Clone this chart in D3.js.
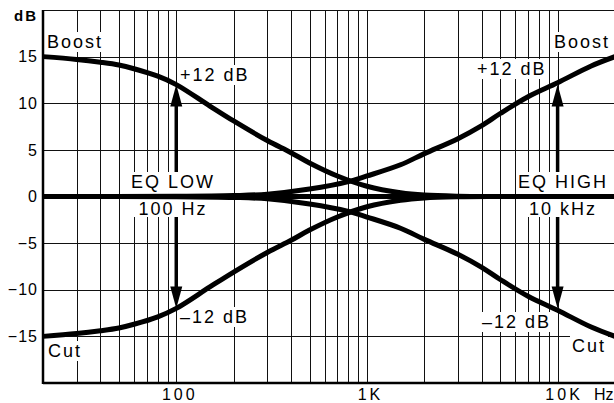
<!DOCTYPE html>
<html>
<head>
<meta charset="utf-8">
<script src="https://cdn.jsdelivr.net/npm/d3@7"></script>
<style>
  html, body { margin: 0; padding: 0; background: #fff; }
  svg { display: block; font-family: 'Liberation Sans', Arial, sans-serif; }
</style>
</head>
<body>
<div id="chart"></div>
<script>
// ---- data ----
const dbTicks = [15, 10, 5, 0, -5, -10, -15];
const gridDb = [20, 15, 10, 5, 0, -5, -10, -15];
const gridFreqs = [30, 40, 50, 60, 70, 80, 90, 100,
  200, 300, 400, 500, 600, 700, 800, 900, 1000,
  2000, 3000, 4000, 5000, 6000, 7000, 8000, 9000, 10000];
const freqLabels = [100, 1000, 10000];
const freqLabelText = ['100', '1K', '10K'];

// EQ LOW shelf
const lowFreqs = [20, 30, 40, 50, 60, 80, 100, 150, 200, 300, 400, 500, 700, 1000, 1500, 2000, 3000, 5000, 20000];
const lowBoost = [15, 14.7, 14.4, 14.1, 13.7, 12.9, 12.0, 9.7, 8.1, 6.0, 4.7, 3.6, 2.2, 1.1, 0.4, 0.15, 0.03, 0, 0];
const lowCut = [-15, -14.7, -14.4, -14.1, -13.7, -12.9, -12.0, -9.7, -8.1, -6.0, -4.7, -3.6, -2.2, -1.1, -0.4, -0.15, -0.03, 0, 0];

// EQ HIGH shelf
const highFreqs = [20, 100, 200, 300, 500, 800, 1000, 1500, 2000, 3000, 4000, 5000, 7000, 10000, 15000, 20000];
const highBoost = [0, 0.02, 0.1, 0.25, 0.8, 1.6, 2.2, 3.4, 4.6, 6.2, 7.6, 8.9, 10.7, 12.2, 14.0, 15.0];
const highCut = [0, -0.02, -0.1, -0.25, -0.8, -1.6, -2.2, -3.4, -4.6, -6.2, -7.6, -8.9, -10.7, -12.2, -14.0, -15.0];

const flatFreqs = [20, 20000];
const flatDb = [0, 0];

// arrows: frequency, dB at the tip
const arrowFreqs = [100, 100, 10000, 10000];
const arrowTips = [12, -12, 12, -12];

// ---- layout ----
const W = 614, H = 403;
const svg = d3.select('#chart').append('svg').attr('width', W).attr('height', H);

const x = d3.scaleLog().domain([20, 20000]).range([43, 615]);
const y = d3.scaleLinear().domain([-20, 20]).range([383, 10]);

/* ---------- grid ---------- */
const grid = svg.append('g').attr('stroke', '#111').attr('stroke-width', 1).attr('shape-rendering', 'crispEdges');
grid.selectAll('.vg').data(gridFreqs).enter().append('line')
  .attr('x1', d => Math.round(x(d)) + 0.5).attr('x2', d => Math.round(x(d)) + 0.5)
  .attr('y1', y(20)).attr('y2', y(-20));
grid.selectAll('.hg').data(gridDb).enter().append('line')
  .attr('x1', x(20)).attr('x2', W)
  .attr('y1', d => Math.round(y(d)) + 0.5).attr('y2', d => Math.round(y(d)) + 0.5);

/* ---------- axes ---------- */
svg.append('line').attr('x1', x(20)).attr('x2', x(20)).attr('y1', y(20)).attr('y2', y(-20) + 1)
  .attr('stroke', '#000').attr('stroke-width', 2.5);
svg.append('line').attr('x1', x(20)).attr('x2', W).attr('y1', y(-20)).attr('y2', y(-20))
  .attr('stroke', '#000').attr('stroke-width', 2.5);

const yAxis = svg.append('g')
  .attr('transform', 'translate(' + (x(20) - 5) + ',0)')
  .call(d3.axisLeft(y).tickValues(dbTicks).tickSize(0).tickPadding(0)
    .tickFormat(d => d < 0 ? '\u2212' + Math.abs(d) : d));
yAxis.select('.domain').remove();
yAxis.selectAll('text').attr('font-size', 16).attr('letter-spacing', 1).attr('fill', '#000')
  .attr('font-family', 'Liberation Sans, Arial, sans-serif');

const xAxis = svg.append('g')
  .attr('transform', 'translate(0,' + y(-20) + ')')
  .call(d3.axisBottom(x).tickValues(freqLabels).tickSize(0).tickPadding(6)
    .tickFormat((d, i) => freqLabelText[i]));
xAxis.select('.domain').remove();
xAxis.selectAll('text').attr('font-size', 16).attr('letter-spacing', 3).attr('fill', '#000')
  .attr('font-family', 'Liberation Sans, Arial, sans-serif')
  .attr('dx', (d, i) => i === 2 ? 6 : 3);

svg.append('text').attr('x', 594).attr('y', 400).attr('font-size', 16).attr('letter-spacing', 0)
  .text('Hz');
svg.append('text').attr('x', 14).attr('y', 21).attr('font-size', 15).attr('font-weight', 'bold')
  .attr('letter-spacing', 2).text('dB');

/* ---------- arrows ---------- */
const arrowG = svg.append('g');
arrowFreqs.forEach((f, i) => {
  const tip = arrowTips[i];
  const ax = x(f);
  const ty = y(tip);
  const dir = tip > 0 ? 1 : -1;
  const headLen = 22, headW = 6;
  arrowG.append('line')
    .attr('x1', ax).attr('x2', ax)
    .attr('y1', ty + dir * headLen - dir * 1).attr('y2', y(0))
    .attr('stroke', '#000').attr('stroke-width', 3.5);
  arrowG.append('path')
    .attr('d', 'M' + ax + ',' + ty + 'L' + (ax - headW) + ',' + (ty + dir * headLen) + 'L' + (ax + headW) + ',' + (ty + dir * headLen) + 'Z')
    .attr('fill', '#000');
});

/* ---------- labels ---------- */
const labelG = svg.append('g').attr('font-size', 18).attr('letter-spacing', 2).attr('fill', '#000');
function label(t, lx, ly, anchor, pad) {
  const el = labelG.append('text').attr('x', lx).attr('y', ly).attr('text-anchor', anchor || 'start').text(t);
  const b = el.node().getBBox();
  const p = pad || 2;
  labelG.insert('rect', () => el.node())
    .attr('x', b.x - p).attr('y', b.y - p + 2).attr('width', b.width + 2 * p).attr('height', b.height + 2 * p - 4)
    .attr('fill', '#fff');
  return el;
}
label('Boost', 47, 48);
label('+12 dB', 180, 81);
label('\u201312 dB', 180, 323);
label('Cut', 48, 357);
label('Boost', 554, 48);
label('+12 dB', 477, 75);
label('\u201312 dB', 482, 328);
label('Cut', 572, 352);

// EQ labels with block background (shaft is hidden behind it)
function eqBlock(t1, t2, cx, w) {
  labelG.append('rect').attr('x', cx - w / 2).attr('y', 172).attr('width', w).attr('height', 45).attr('fill', '#fff');
  labelG.append('text').attr('x', cx).attr('y', 188).attr('text-anchor', 'middle').text(t1);
  labelG.append('text').attr('x', cx).attr('y', 215).attr('text-anchor', 'middle').text(t2);
}
eqBlock('EQ LOW', '100 Hz', 173, 88);
eqBlock('EQ HIGH', '10 kHz', 563, 94);

/* ---------- curves ---------- */
const line = d3.line()
  .x(d => x(d[0]))
  .y(d => y(d[1]))
  .curve(d3.curveCatmullRom.alpha(0.5));

const curves = [
  d3.zip(flatFreqs, flatDb),
  d3.zip(lowFreqs, lowBoost),
  d3.zip(lowFreqs, lowCut),
  d3.zip(highFreqs, highBoost),
  d3.zip(highFreqs, highCut)
];
svg.append('g').selectAll('path').data(curves).enter().append('path')
  .attr('d', line)
  .attr('fill', 'none')
  .attr('stroke', '#000')
  .attr('stroke-width', 5)
  .attr('stroke-linejoin', 'round');
</script>
</body>
</html>
